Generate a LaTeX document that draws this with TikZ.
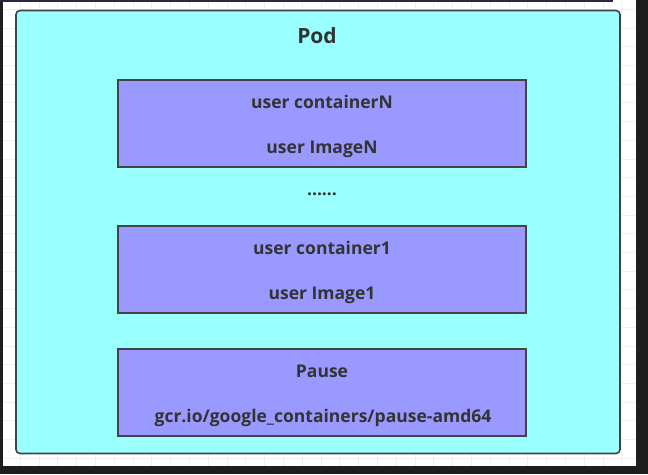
\documentclass[tikz,border=0pt]{standalone}
\usepackage{fontspec}
\setmainfont{Open Sans}
\definecolor{podfill}{HTML}{99FFFF}
\definecolor{boxfill}{HTML}{9999FF}
\definecolor{edge}{HTML}{444444}
\definecolor{ink}{HTML}{333333}
\definecolor{frame}{HTML}{1E1E1E}
\definecolor{topbar}{HTML}{2D2640}
\definecolor{gridline}{HTML}{F0F0F0}
\tikzset{
  podbox/.style={draw=edge, line width=1.6pt, fill=podfill, rounded corners=4pt},
  layer/.style={draw=edge, line width=1.6pt, fill=boxfill, minimum width=408pt, minimum height=87pt, inner sep=0pt},
  label/.style={text=ink, font=\bfseries\fontsize{17.5}{20}\selectfont, inner sep=0pt, anchor=base},
  title/.style={text=ink, font=\bfseries\fontsize{21}{25}\selectfont, inner sep=0pt, anchor=base}
}
\begin{document}
\begin{tikzpicture}[x=1pt, y=-1pt]
\useasboundingbox (0,0) rectangle (648,474);
% canvas with a light grid
\fill[white] (0,0) rectangle (648,474);
\foreach \i in {0,...,34} {
  \draw[gridline, line width=0.8pt] (1.3+18.8*\i,0) -- (1.3+18.8*\i,474);
}
\foreach \j in {0,...,25} {
  \draw[gridline, line width=0.8pt] (0,9.3+18.7*\j) -- (648,9.3+18.7*\j);
}
% dark window frame
\fill[frame] (0,0) rectangle (3,474);
\fill[frame] (636,0) rectangle (648,474);
\fill[frame] (0,466) rectangle (648,474);
\fill[topbar] (0,0) rectangle (613,2);
% pod
\draw[podbox] (16,10.5) rectangle (620,453.5);
\node[title] (pod) at (317,43) {Pod};
% containers
\node[layer] (cN) at (322,123.5) {};
\node[label] (cNa) at (322,108) {user containerN};
\node[label] (cNb) at (322,153) {user ImageN};
\node[label] (dots) at (322,195) {......};
\node[layer] (c1) at (322,269.5) {};
\node[label] (c1a) at (322,254.5) {user container1};
\node[label] (c1b) at (322,299) {user Image1};
\node[layer] (pause) at (322,392.5) {};
\node[label] (pa) at (322,377) {Pause};
\node[label] (pb) at (323,422) {gcr.io/google\_containers/pause-amd64};
\end{tikzpicture}
\end{document}
